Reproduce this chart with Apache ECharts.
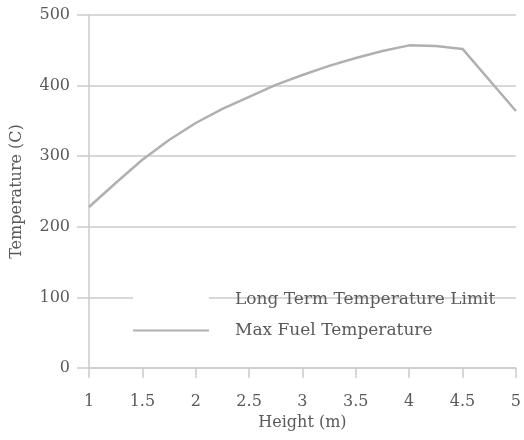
<!DOCTYPE html>
<html>
<head>
<meta charset="utf-8">
<script src="https://cdn.jsdelivr.net/npm/echarts@6/dist/echarts.min.js"></script>
<style>
  html, body { margin: 0; padding: 0; background: #fff; }
  #chart { width: 524px; height: 440px; }
</style>
</head>
<body>
<div id="chart"></div>
<script>
// Height along the element (m)
const heights = [1, 1.25, 1.5, 1.75, 2, 2.25, 2.5, 2.75, 3, 3.25, 3.5, 3.75, 4, 4.25, 4.5, 5];
// Maximum fuel temperature (C) at each height
const maxFuelTemp = [228, 262, 295, 323, 347, 367, 384, 401, 415, 428, 439, 449, 457, 456, 452, 364];
// Long term temperature limit (no values plotted)
const longTermLimit = [];

const seriesNames = ['Long Term Temperature Limit', 'Max Fuel Temperature'];

const FONT = 'DejaVu Serif';
const TEXT = '#5a5a5a';
const GRID = '#cbcbcb';
const CURVE = '#b0b0b0';

const chart = echarts.init(document.getElementById('chart'), null, { renderer: 'canvas' });

chart.setOption({
  animation: false,
  backgroundColor: '#fff',
  grid: { left: 89, right: 5, top: 15, bottom: 72, containLabel: false },
  xAxis: {
    type: 'value',
    min: 1, max: 5, interval: 0.5,
    name: 'Height (m)',
    nameLocation: 'middle',
    nameGap: 46,
    nameTextStyle: { fontFamily: FONT, fontSize: 16, color: TEXT },
    axisLine: { show: true, lineStyle: { color: GRID, width: 1.5 } },
    axisTick: { show: true, length: 10, lineStyle: { color: GRID, width: 1.5 } },
    splitLine: { show: false },
    axisLabel: { margin: 26, fontFamily: FONT, fontSize: 16, color: TEXT }
  },
  yAxis: {
    type: 'value',
    min: 0, max: 500, interval: 100,
    name: 'Temperature (C)',
    nameLocation: 'middle',
    nameGap: 64,
    nameTextStyle: { fontFamily: FONT, fontSize: 16, color: TEXT },
    axisLine: { show: true, lineStyle: { color: GRID, width: 1.5 } },
    axisTick: { show: true, length: 12, lineStyle: { color: GRID, width: 1.5 } },
    splitLine: { show: true, lineStyle: { color: GRID, width: 1.5 } },
    axisLabel: { margin: 19, fontFamily: FONT, fontSize: 16, color: TEXT }
  },
  legend: [
    {
      data: [seriesNames[0]],
      left: 133, top: 291,
      padding: 0,
      orient: 'vertical',
      selectedMode: false,
      icon: 'rect',
      itemWidth: 76, itemHeight: 9,
      itemStyle: { color: '#ffffff', borderWidth: 0 },
      textStyle: { fontFamily: FONT, fontSize: 17, color: TEXT, padding: [0, 0, 0, 21] }
    },
    {
      data: [seriesNames[1]],
      left: 133, top: 322,
      padding: 0,
      orient: 'vertical',
      selectedMode: false,
      icon: 'rect',
      itemWidth: 76, itemHeight: 2,
      itemStyle: { color: CURVE, borderWidth: 0 },
      textStyle: { fontFamily: FONT, fontSize: 17, color: TEXT, padding: [0, 0, 0, 21] }
    }
  ],
  series: [
    {
      name: seriesNames[0],
      type: 'line',
      data: longTermLimit,
      showSymbol: false,
      symbol: 'none',
      color: '#ffffff',
      lineStyle: { color: '#ffffff', width: 2 }
    },
    {
      name: seriesNames[1],
      type: 'line',
      data: heights.map((h, i) => [h, maxFuelTemp[i]]),
      showSymbol: false,
      symbol: 'none',
      smooth: false,
      color: CURVE,
      lineStyle: { color: CURVE, width: 2.5 }
    }
  ]
});
</script>
</body>
</html>
